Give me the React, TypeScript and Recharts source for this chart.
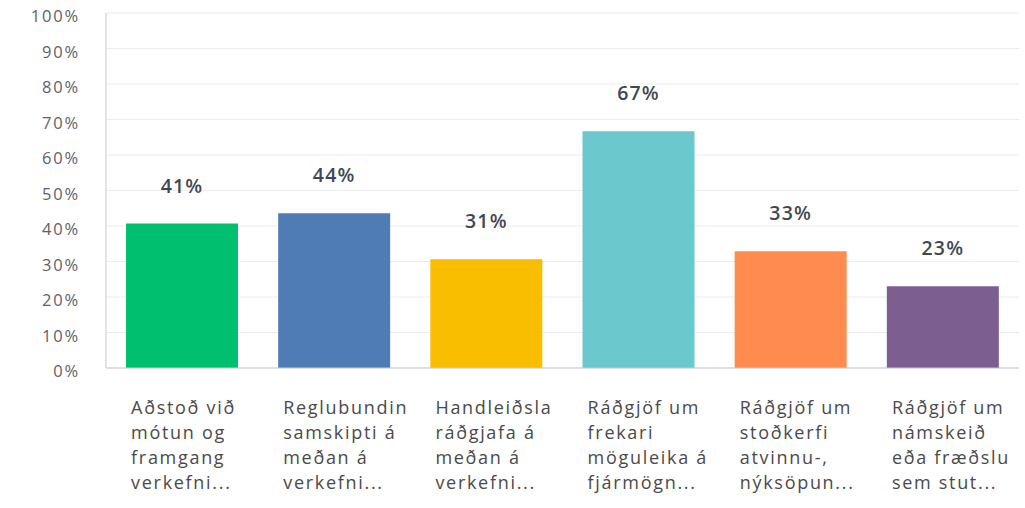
import React from 'react';
import { BarChart, Bar, XAxis, YAxis, CartesianGrid, Cell, LabelList } from 'recharts';

const categories = [
    ['Aðstoð við', 'mótun og', 'framgang', 'verkefni...'],
    ['Reglubundin', 'samskipti á', 'meðan á', 'verkefni...'],
    ['Handleiðsla', 'ráðgjafa á', 'meðan á', 'verkefni...'],
    ['Ráðgjöf um', 'frekari', 'möguleika á', 'fjármögn...'],
    ['Ráðgjöf um', 'stoðkerfi', 'atvinnu-,', 'nýksöpun...'],
    ['Ráðgjöf um', 'námskeið', 'eða fræðslu', 'sem stut...'],
];
const values = [40.7, 43.6, 30.6, 66.7, 32.9, 23.0];
const colors = ['#00bf6f', '#507cb6', '#f9be00', '#6bc8cd', '#ff8b4f', '#7d5e90'];
const yTicks = [0, 10, 20, 30, 40, 50, 60, 70, 80, 90, 100];

const data = categories.map((lines, i) => ({ name: String(i), value: values[i] }));

const FONT = '"Open Sans", sans-serif';

const CategoryTick = (props: any) => {
    const { x, y, payload } = props;
    const lines = categories[Number(payload.value)];
    return (
        <text x={x - 51} y={y + 46} fill="#4a4a4a" fontSize={18} fontFamily={FONT} letterSpacing={1.7} textAnchor="start">
            {lines.map((l, i) => (
                <tspan key={i} x={x - 51} dy={i === 0 ? 0 : 25}>{l}</tspan>
            ))}
        </text>
    );
};

const PercentTick = (props: any) => {
    const { x, y, payload } = props;
    return (
        <text x={x} y={y} dy={9} fill="#5e6268" fontSize={16.5} fontFamily={FONT} letterSpacing={1.8} textAnchor="end">
            {`${payload.value}%`}
        </text>
    );
};

export default function App() {
    return (
        <div style={{ position: 'absolute', left: 0, top: 0, width: 1025, height: 508, background: '#fff' }}>
            <BarChart width={1025} height={508} data={data} margin={{ top: 13, right: 6, left: 0, bottom: 0 }} barCategoryGap={20}>
                <CartesianGrid vertical={false} stroke="#ececec" />
                <XAxis dataKey="name" height={140} tickLine={false} tickSize={0} tickMargin={0} stroke="#c9c9c9" tick={<CategoryTick />} interval={0} />
                <YAxis
                    width={106}
                    domain={[0, 100]}
                    ticks={yTicks}
                    tickLine={false}
                    tickSize={0}
                    tickMargin={26}
                    stroke="#c9c9c9"
                    tick={<PercentTick />}
                    interval={0}
                />
                <Bar dataKey="value" isAnimationActive={false}>
                    {data.map((d, i) => (
                        <Cell key={i} fill={colors[i]} />
                    ))}
                    <LabelList
                        dataKey="value"
                        position="top"
                        offset={31}
                        formatter={(v: any) => `${Math.round(Number(v))}%`}
                        style={{ fill: '#3f4850', fontSize: 19.5, fontWeight: 600, fontFamily: FONT, letterSpacing: 1.2 }}
                    />
                </Bar>
            </BarChart>
        </div>
    );
}
